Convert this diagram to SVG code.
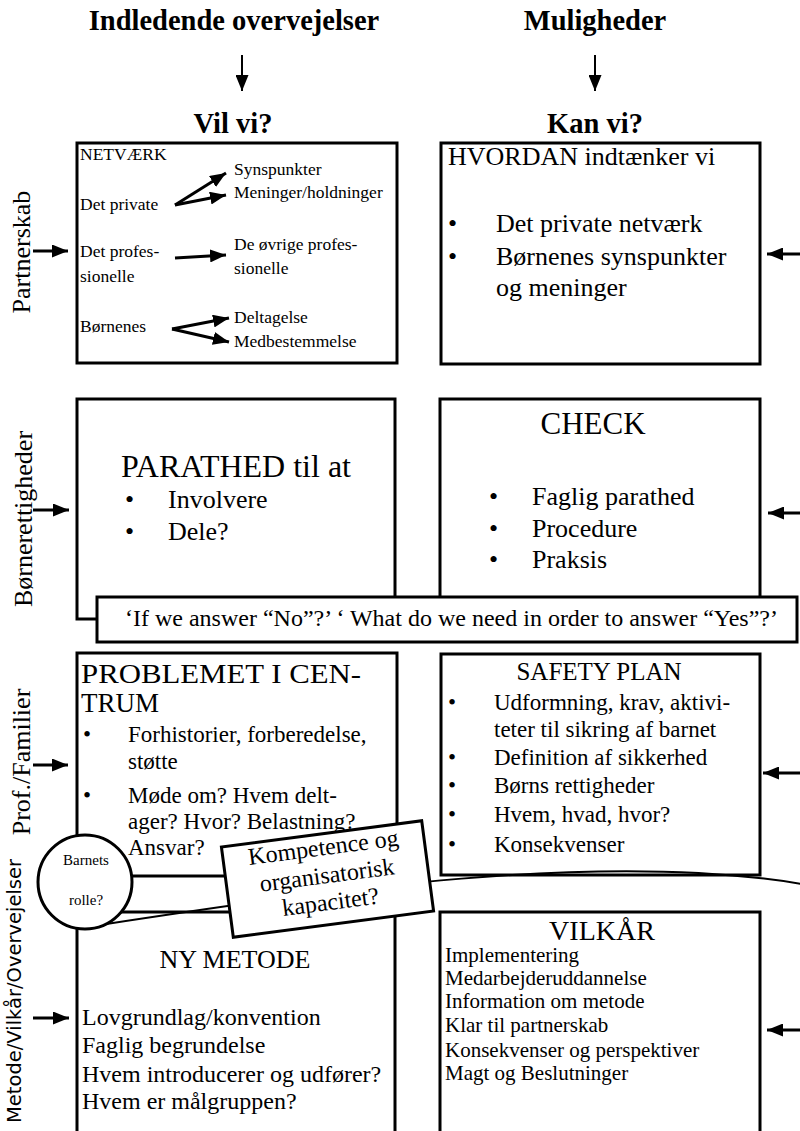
<svg xmlns="http://www.w3.org/2000/svg" width="800" height="1131" viewBox="0 0 800 1131">
<style>
  text { font-family: "Liberation Serif", "Times New Roman", serif; fill: #000; }
  .h { font-weight: bold; font-size: 28.5px; text-anchor: middle; }
  .box { fill: #fff; stroke: #000; stroke-width: 3; }
  .s { font-size: 17.5px; }
  .m26 { font-size: 26px; }
  .m24 { font-size: 24px; }
  .m23 { font-size: 23px; }
  .side { font-size: 26px; text-anchor: middle; }
  .arr { stroke: #000; stroke-width: 3; fill: none; marker-end: url(#ah); }
  .thin { stroke: #000; stroke-width: 2; fill: none; }
</style>
<defs>
  <marker id="ah" viewBox="0 0 10 10" refX="10" refY="5" markerWidth="16" markerHeight="13" markerUnits="userSpaceOnUse" orient="auto" preserveAspectRatio="none">
    <path d="M0,0 L10,5 L0,10 z" fill="#000"/>
  </marker>
</defs>
<rect width="800" height="1131" fill="#fff"/>

<g id="headings">
  <text class="h" x="234" y="30">Indledende overvejelser</text>
  <text class="h" x="595" y="30">Muligheder</text>
  <text class="h" x="233" y="133">Vil vi?</text>
  <text class="h" x="595" y="133">Kan vi?</text>
</g>

<g id="side-labels">
  <text class="side" transform="translate(30,252) rotate(-90)">Partnerskab</text>
  <text class="side" transform="translate(32,519) rotate(-90)">Børnerettigheder</text>
  <text class="side" transform="translate(30,762) rotate(-90)">Prof./Familier</text>
  <text transform="translate(21,991) rotate(-90)" style="font-family:'DejaVu Sans',Verdana,sans-serif;font-size:19.5px;text-anchor:middle">Metode/Vilkår/Overvejelser</text>
</g>

<g id="netvaerk">
  <rect class="box" x="77" y="143" width="320" height="220"/>
  <text class="s" x="80" y="160">NETVÆRK</text>
  <text class="s" x="234" y="175">Synspunkter</text>
  <text class="s" x="234" y="198">Meninger/holdninger</text>
  <text class="s" x="80" y="210">Det private</text>
  <text class="s" x="80" y="257">Det profes-</text>
  <text class="s" x="80" y="282">sionelle</text>
  <text class="s" x="234" y="250">De øvrige profes-</text>
  <text class="s" x="234" y="274">sionelle</text>
  <text class="s" x="80" y="332">Børnenes</text>
  <text class="s" x="234" y="323">Deltagelse</text>
  <text class="s" x="234" y="347">Medbestemmelse</text>
</g>

<g id="hvordan">
  <rect class="box" x="441" y="143" width="319" height="221"/>
  <text class="m26" x="448" y="165">HVORDAN indtænker vi</text>
  <text class="m26" x="448" y="232">•</text>
  <text class="m26" x="496" y="232">Det private netværk</text>
  <text class="m26" x="448" y="265">•</text>
  <text class="m26" x="496" y="265">Børnenes synspunkter</text>
  <text class="m26" x="496" y="296">og meninger</text>
</g>

<g id="parathed">
  <rect class="box" x="77" y="399" width="318" height="220"/>
  <text x="121" y="477" style="font-size:31px" textLength="230" lengthAdjust="spacingAndGlyphs">PARATHED til at</text>
  <text class="m26" x="125" y="508">•</text>
  <text class="m26" x="168" y="508">Involvere</text>
  <text class="m26" x="125" y="540">•</text>
  <text class="m26" x="168" y="540">Dele?</text>
</g>

<g id="check">
  <rect class="box" x="440" y="399" width="320" height="220"/>
  <text x="593" y="434" style="font-size:31px;text-anchor:middle">CHECK</text>
  <text class="m26" x="489" y="505">•</text>
  <text class="m26" x="532" y="505">Faglig parathed</text>
  <text class="m26" x="489" y="537">•</text>
  <text class="m26" x="532" y="537">Procedure</text>
  <text class="m26" x="489" y="568">•</text>
  <text class="m26" x="532" y="568">Praksis</text>
</g>

<g id="banner">
  <rect class="box" x="97" y="597" width="700" height="45"/>
  <text x="125" y="626" style="font-size:24px" textLength="653" lengthAdjust="spacingAndGlyphs">‘If we answer “No”?’ ‘ What do we need in order to answer “Yes”?’</text>
</g>

<g id="problemet">
  <rect class="box" x="77" y="653" width="320" height="223"/>
  <text x="81" y="683" style="font-size:28px" textLength="280" lengthAdjust="spacingAndGlyphs">PROBLEMET I CEN-</text>
  <text x="81" y="712" style="font-size:28px" textLength="78" lengthAdjust="spacingAndGlyphs">TRUM</text>
  <text class="m23" x="83" y="742">•</text>
  <text class="m23" x="128" y="742">Forhistorier, forberedelse,</text>
  <text class="m23" x="128" y="769">støtte</text>
  <text class="m23" x="83" y="803">•</text>
  <text class="m23" x="128" y="803">Møde om? Hvem delt-</text>
  <text class="m23" x="128" y="829">ager? Hvor? Belastning?</text>
  <text class="m23" x="128" y="855">Ansvar?</text>
</g>

<g id="safety-plan">
  <rect class="box" x="441" y="654" width="319" height="221"/>
  <text x="599" y="680" style="font-size:25px;text-anchor:middle">SAFETY PLAN</text>
  <text class="m23" x="448" y="710">•</text>
  <text class="m23" x="494" y="710">Udformning, krav, aktivi-</text>
  <text class="m23" x="494" y="737">teter til sikring af barnet</text>
  <text class="m23" x="448" y="765">•</text>
  <text class="m23" x="494" y="765">Definition af sikkerhed</text>
  <text class="m23" x="448" y="793">•</text>
  <text class="m23" x="494" y="793">Børns rettigheder</text>
  <text class="m23" x="448" y="822">•</text>
  <text class="m23" x="494" y="822">Hvem, hvad, hvor?</text>
  <text class="m23" x="448" y="852">•</text>
  <text class="m23" x="494" y="852">Konsekvenser</text>
</g>

<g id="ny-metode">
  <rect class="box" x="77" y="912" width="318" height="225"/>
  <text x="235" y="968" style="font-size:26px;text-anchor:middle">NY METODE</text>
  <text class="m24" x="82" y="1025">Lovgrundlag/konvention</text>
  <text class="m24" x="82" y="1053">Faglig begrundelse</text>
  <text class="m24" x="82" y="1082">Hvem introducerer og udfører?</text>
  <text class="m24" x="82" y="1109">Hvem er målgruppen?</text>
</g>

<g id="vilkaar">
  <rect class="box" x="440" y="912" width="320" height="225"/>
  <text x="602" y="940" style="font-size:28px;text-anchor:middle">VILKÅR</text>
  <text x="445" y="962" style="font-size:21px">Implementering</text>
  <text x="445" y="985" style="font-size:21px">Medarbejderuddannelse</text>
  <text x="445" y="1008" style="font-size:21px">Information om metode</text>
  <text x="445" y="1032" style="font-size:21px">Klar til partnerskab</text>
  <text x="445" y="1057" style="font-size:21px">Konsekvenser og perspektiver</text>
  <text x="445" y="1080" style="font-size:21px">Magt og Beslutninger</text>
</g>

<g id="connectors">
  <line class="thin" x1="242" y1="55" x2="242" y2="91" marker-end="url(#ah)"/>
  <line class="thin" x1="595" y1="55" x2="595" y2="91" marker-end="url(#ah)"/>
  <line class="arr" x1="175" y1="205" x2="226" y2="173"/>
  <line class="arr" x1="175" y1="205" x2="226" y2="195"/>
  <line class="arr" x1="175" y1="258" x2="226" y2="255"/>
  <line class="arr" x1="172" y1="329" x2="229" y2="318"/>
  <line class="arr" x1="172" y1="329" x2="229" y2="342"/>
  <line class="arr" x1="33" y1="251" x2="68" y2="251"/>
  <line class="arr" x1="33" y1="510" x2="69" y2="510"/>
  <line class="arr" x1="33" y1="765" x2="68" y2="765"/>
  <line class="arr" x1="33" y1="1018" x2="69" y2="1018"/>
  <line class="arr" x1="802" y1="254" x2="767" y2="254"/>
  <line class="arr" x1="802" y1="513" x2="768" y2="513"/>
  <line class="arr" x1="802" y1="773" x2="763" y2="773"/>
  <line class="arr" x1="802" y1="1030" x2="767" y2="1030"/>
  <path class="thin" d="M100,925 C330,890 600,850 802,884"/>
</g>

<g id="barnets-rolle">
  <circle cx="85" cy="882" r="47" fill="#fff" stroke="#000" stroke-width="3"/>
  <text x="86" y="865" style="font-size:15px;text-anchor:middle">Barnets</text>
  <text x="86" y="905" style="font-size:15px;text-anchor:middle">rolle?</text>
</g>

<g id="kompetence" transform="translate(327.5,879) rotate(-7.5)">
  <rect class="box" x="-101" y="-45.5" width="202" height="91"/>
  <text x="0" y="-24" style="font-size:24px;text-anchor:middle">Kompetence og</text>
  <text x="0" y="4" style="font-size:24px;text-anchor:middle">organisatorisk</text>
  <text x="0" y="31" style="font-size:24px;text-anchor:middle">kapacitet?</text>
</g>
</svg>
